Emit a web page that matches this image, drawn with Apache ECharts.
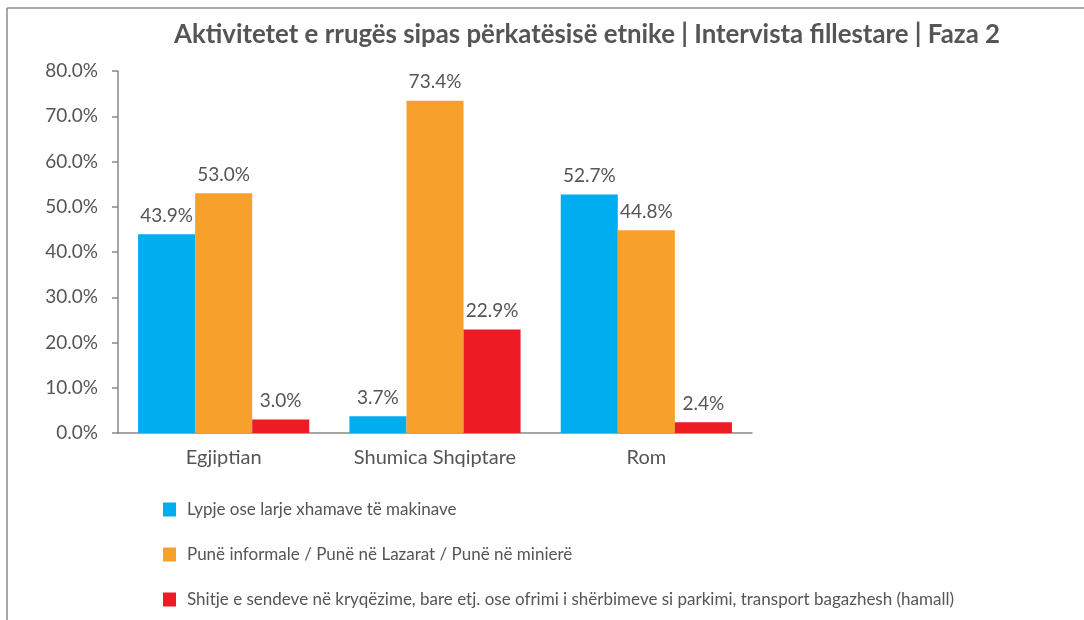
<!DOCTYPE html>
<html>
<head>
<meta charset="utf-8">
<script src="https://cdn.jsdelivr.net/npm/echarts@6/dist/echarts.min.js"></script>
<style>html,body{margin:0;padding:0;background:#fff;}#c{width:1084px;height:620px;}</style>
</head>
<body>
<div id="c"></div>
<script>
const titleText = 'Aktivitetet e rrugës sipas përkatësisë etnike | Intervista fillestare | Faza 2';
const categories = ['Egjiptian', 'Shumica Shqiptare', 'Rom'];
const seriesNames = [
  'Lypje ose larje xhamave të makinave',
  'Punë informale / Punë në Lazarat / Punë në minierë',
  'Shitje e sendeve në kryqëzime, bare etj. ose ofrimi i shërbimeve si parkimi, transport bagazhesh (hamall)'
];
const lypje = [43.9, 3.7, 52.7];
const pune = [53.0, 73.4, 44.8];
const shitje = [3.0, 22.9, 2.4];
const colors = ['#00AEEF', '#F7A12C', '#ED1C24'];

const font = 'Lato';
const txt = '#555555';
const chart = echarts.init(document.getElementById('c'));
const values = [lypje, pune, shitje];
chart.setOption({
  animation: false,
  title: {
    text: titleText, left: 582, textAlign: 'center', top: 17,
    textStyle: {fontFamily: font, fontSize: 25.8, fontWeight: 'bold', color: txt}
  },
  graphic: [
    {type: 'line', shape: {x1: 7, y1: 8, x2: 1084, y2: 8}, style: {stroke: '#8a8a8a', lineWidth: 1.5}},
    {type: 'line', shape: {x1: 7, y1: 8, x2: 7, y2: 620}, style: {stroke: '#8a8a8a', lineWidth: 1.5}}
  ],
  legend: {
    orient: 'vertical', left: 158, top: 496, itemGap: 28, itemWidth: 13, itemHeight: 14,
    icon: 'rect',
    data: seriesNames,
    textStyle: {fontFamily: font, fontSize: 17, color: txt, padding: [0, 0, 0, 6]}
  },
  grid: {left: 118, right: 332, top: 71, bottom: 187},
  xAxis: {
    type: 'category', data: categories,
    axisLine: {lineStyle: {color: '#888', width: 1.5}},
    axisTick: {length: 6, lineStyle: {color: '#888', width: 1.5}},
    axisLabel: {fontFamily: font, fontSize: 20, color: txt, margin: 15}
  },
  yAxis: {
    type: 'value', min: 0, max: 80, interval: 10,
    splitLine: {show: false},
    axisLine: {show: true, lineStyle: {color: '#888', width: 1.5}},
    axisTick: {show: true, length: 6, lineStyle: {color: '#888', width: 1.5}},
    axisLabel: {fontFamily: font, fontSize: 19, color: txt, margin: 20, formatter: v => v.toFixed(1) + '%'}
  },
  series: values.map((arr, i) => ({
    name: seriesNames[i], type: 'bar', data: arr,
    barGap: 0, barCategoryGap: '19%',
    itemStyle: {color: colors[i]},
    label: {show: true, position: 'top', distance: 9, fontFamily: font, fontSize: 19, color: txt,
      formatter: p => p.value.toFixed(1) + '%'}
  }))
});
</script>
</body>
</html>
